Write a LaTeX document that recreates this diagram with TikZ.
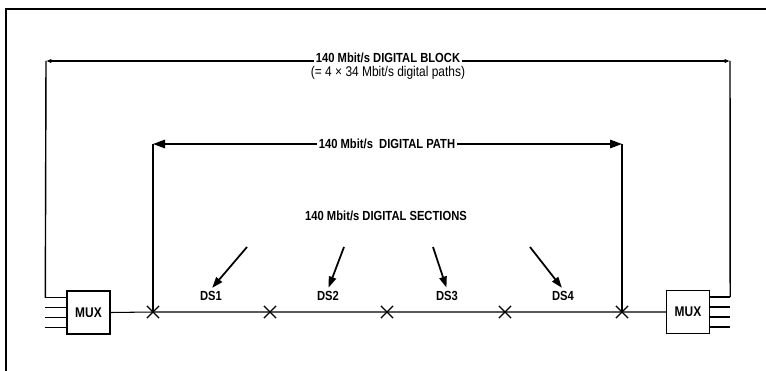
\documentclass[tikz,border=0pt]{standalone}
\usepackage{fontspec}
\setmainfont[FakeStretch=0.85]{Liberation Sans}
\usetikzlibrary{arrows.meta,shapes.misc,positioning}

\tikzset{
  frameline/.style={line width=1.1pt},
  muxbox/.style={draw, line width=0.8pt, minimum width=0.86cm, minimum height=0.86cm,
    inner sep=0pt, font=\fontsize{8}{9}\bfseries\selectfont},
  tribline/.style={line width=0.9pt},
  xmark/.style={cross out, draw, line width=0.7pt, minimum size=0.22cm, inner sep=0pt},
  secline/.style={line width=0.6pt},
  edgeline/.style={line width=0.8pt},
  blockline/.style={line width=1.2pt, {Latex[length=3pt,width=2.5pt]}-{Latex[length=3pt,width=2.5pt]}},
  pathline/.style={line width=0.7pt, -{Triangle[length=0.24cm,width=0.17cm]}},
  secarrow/.style={line width=1pt, -{Triangle[length=0.22cm,width=0.15cm]}, shorten >=1pt},
  lbl/.style={font=\fontsize{7.5}{8}\bfseries\selectfont, inner sep=1pt},
  sublbl/.style={font=\fontsize{8}{9}\selectfont, inner sep=1pt},
}

\begin{document}
\begin{tikzpicture}[x=0.02cm, y=-0.02cm]
    \useasboundingbox (0,0) rectangle (766,371);
    % outer frame
    \draw[frameline] (780,9) -- (6,9) -- (6,380);

    % multiplexers with tributaries
    \node[muxbox] (muxl) at (88.5,312.5) {MUX};
    \node[muxbox] (muxr) at (688,312) {MUX};
    \foreach \d [count=\i] in {0.3,0.1,-0.1,-0.3} {
        \draw[tribline] ([yshift=\d cm]muxl.west) -- ++(-21,0) coordinate (inl\i);
        \draw[tribline] ([yshift=\d cm]muxr.east) -- ++(20,0) coordinate (inr\i);
    }

    % section end points
    \foreach \x [count=\i] in {153,270,387,505,622}
        \node[xmark] (x\i) at (\x,312) {};
    \draw[secline] (muxl.east) -- (x1.center) -- (x2.center) -- (x3.center)
        -- (x4.center) -- (x5.center) -- (muxr.west);

    % digital block
    \coordinate (bl) at (46,61);
    \coordinate (br) at (730,61);
    \draw[edgeline] (bl) -- (inl1);
    \draw[edgeline] (br) -- (inr1);
    \draw[blockline] (bl) -- (br);
    \node[lbl, fill=white] (blk) at (388,58) {140 Mbit/s DIGITAL BLOCK};
    \node[sublbl] (blksub) at (388,73) {(= 4 × 34 Mbit/s digital paths)};

    % digital path
    \coordinate (pl) at (153,144);
    \coordinate (pr) at (622,144);
    \draw[edgeline] (pl) -- (x1.center);
    \draw[edgeline] (pr) -- (x5.center);
    \node[lbl] (pth) at (387,144) {140 Mbit/s~ DIGITAL PATH};
    \draw[pathline] (pth) -- (pl);
    \draw[pathline] (pth) -- (pr);

    % digital sections
    \node[lbl] (sec) at (386,216) {140 Mbit/s DIGITAL SECTIONS};
    \foreach \x/\t [count=\i] in {211/DS1,328/DS2,447/DS3,563/DS4}
        \node[lbl] (ds\i) at (\x,296) {\t};
    \coordinate (s1) at (247,247);
    \coordinate (s2) at (344,247);
    \coordinate (s3) at (433,247);
    \coordinate (s4) at (530,247);
    \foreach \i in {1,2,3,4}
        \draw[secarrow] (s\i) -- (ds\i.north);
\end{tikzpicture}
\end{document}
